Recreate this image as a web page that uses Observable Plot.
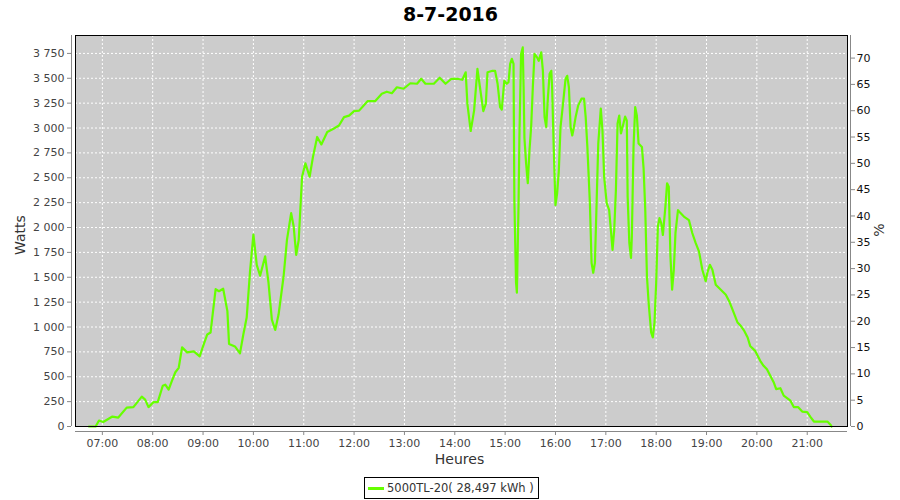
<!DOCTYPE html>
<html>
<head>
<meta charset="utf-8">
<script src="https://cdn.jsdelivr.net/npm/d3@7"></script>
<script src="https://cdn.jsdelivr.net/npm/@observablehq/plot@0.6"></script>
<style>
  html, body { margin: 0; padding: 0; background: #fff; }
  body { width: 900px; height: 500px; overflow: hidden; font-family: "DejaVu Sans", sans-serif; }
  #chart svg { display: block; }
  #legend {
    position: absolute; left: 364px; top: 477px; height: 22px; box-sizing: border-box;
    border: 1px solid #000; display: flex; align-items: center; padding: 0 4px 0 3px;
    font-size: 11.5px; color: #333; white-space: nowrap;
  }
  #legend .sw { display: inline-block; width: 16px; height: 3px; background: #66ff00; margin-right: 3px; }
</style>
</head>
<body>
<div id="chart"></div>
<div id="legend"><span class="sw"></span><span id="legendText"></span></div>
<script>
const title = "8-7-2016";
const seriesName = "5000TL-20( 28,497 kWh )";
const yLabel = "Watts";
const y2Label = "%";
const xLabel = "Heures";

const times = [
  "06:44","06:52","06:56","07:01","07:12","07:19","07:29","07:37","07:47","07:51",
  "07:55","08:01","08:06","08:12","08:15","08:19","08:23","08:27","08:31","08:35",
  "08:41","08:49","08:56","09:01","09:05","09:09","09:11","09:15","09:19","09:24",
  "09:29","09:31","09:38","09:44","09:48","09:52","09:56","10:00","10:04","10:08",
  "10:14","10:18","10:22","10:26","10:30","10:36","10:40","10:45","10:48","10:51",
  "10:54","10:58","11:02","11:07","11:11","11:16","11:21","11:28","11:36","11:42",
  "11:48","11:54","12:00","12:06","12:16","12:25","12:33","12:39","12:45","12:51",
  "12:59","13:07","13:15","13:20","13:25","13:35","13:42","13:49","13:56","14:03",
  "14:09","14:13","14:15","14:19","14:23","14:27","14:30","14:34","14:37","14:39",
  "14:45","14:48","14:51","14:54","14:56","14:59","15:02","15:04","15:06","15:08",
  "15:10","15:11","15:13","15:14","15:16","15:17","15:19","15:21","15:22","15:23",
  "15:25","15:27","15:29","15:31","15:33","15:35","15:38","15:40","15:43","15:45",
  "15:47","15:49","15:51","15:53","15:55","15:56","15:58","16:00","16:02","16:04",
  "16:06","16:09","16:12","16:14","16:16","16:18","16:20","16:22","16:24","16:27",
  "16:31","16:34","16:36","16:38","16:41","16:43","16:45","16:47","16:49","16:51",
  "16:54","16:56","16:58","17:01","17:04","17:06","17:08","17:10","17:12","17:14",
  "17:16","17:18","17:21","17:23","17:25","17:26","17:28","17:30","17:31","17:33",
  "17:35","17:37","17:39","17:43","17:45","17:47","17:49","17:51","17:54","17:56",
  "17:58","18:00","18:02","18:04","18:06","18:08","18:11","18:13","18:15","18:17",
  "18:19","18:21","18:23","18:26","18:29","18:33","18:39","18:43","18:47","18:51",
  "18:55","18:59","19:01","19:04","19:07","19:11","19:17","19:23","19:27","19:31",
  "19:37","19:41","19:45","19:49","19:52","19:58","20:04","20:08","20:12","20:16",
  "20:20","20:23","20:28","20:32","20:36","20:40","20:44","20:49","20:54","21:00",
  "21:04","21:08","21:24","21:28","21:29"
];
const watts = [
  0,0,60,45,100,90,190,195,300,270,
  195,245,245,410,420,370,460,545,590,795,
  745,755,705,830,925,945,1095,1380,1360,1385,
  1160,830,805,735,925,1095,1560,1930,1625,1515,
  1710,1445,1075,970,1125,1510,1875,2145,2010,1725,
  1875,2510,2645,2510,2710,2910,2835,2960,2995,3025,
  3110,3125,3170,3175,3270,3270,3345,3365,3350,3410,
  3395,3450,3445,3495,3445,3445,3505,3445,3495,3495,
  3485,3560,3245,2970,3175,3595,3410,3170,3245,3560,
  3575,3575,3445,3210,3185,3475,3445,3460,3645,3695,
  3645,2275,1445,1345,2245,2910,3745,3810,3410,2900,
  2645,2445,2775,3010,3410,3745,3710,3675,3760,3575,
  3110,3010,3310,3545,3575,3410,2775,2225,2345,2575,
  3010,3245,3495,3525,3410,3010,2925,3010,3110,3225,
  3295,3295,3110,2810,2245,1645,1545,1645,2245,2845,
  3195,2975,2510,2245,2175,1975,1775,1975,2375,3045,
  3125,2945,3045,3115,3075,2310,1845,1695,1910,2810,
  3210,3125,2845,2810,2595,2175,1510,1245,945,895,
  1045,1445,2010,2095,2045,1925,2210,2445,2410,1710,
  1375,1575,1945,2175,2145,2110,2075,1945,1845,1760,
  1575,1460,1545,1625,1575,1425,1375,1325,1260,1175,
  1045,1010,960,895,810,760,660,610,575,510,
  445,375,385,310,285,260,195,195,150,145,
  95,50,50,15,0
];

const hourTicks = ["07:00","08:00","09:00","10:00","11:00","12:00","13:00","14:00",
                   "15:00","16:00","17:00","18:00","19:00","20:00","21:00"];
const wattTicks = [0,250,500,750,1000,1250,1500,1750,2000,2250,2500,2750,3000,3250,3500,3750];
const pctTicks = [0,5,10,15,20,25,30,35,40,45,50,55,60,65,70];
const wattsAt100Pct = 5290;
const xDomain = ["06:28","21:48"];
const yDomain = [0, 3930];

const toMin = s => { const [h, m] = s.split(":").map(Number); return h * 60 + m; };
const data = times.map((t, i) => ({t: toMin(t), w: watts[i]}));
const hourMin = hourTicks.map(toMin);
const fmtHour = m => hourTicks[hourMin.indexOf(m)] ?? "";
const locale = d3.formatLocale({decimal: ",", thousands: " ", grouping: [3], currency: ["", ""]});
const fmtW = locale.format(",d");
const pctPos = pctTicks.map(p => p * wattsAt100Pct / 100);

const gridStyle = {stroke: "#ffffff", strokeOpacity: 1, strokeWidth: 1, strokeDasharray: "2,2"};

const chart = Plot.plot({
  width: 900,
  height: 474,
  marginLeft: 75,
  marginRight: 53,
  marginTop: 35,
  marginBottom: 48,
  style: {fontFamily: "DejaVu Sans, sans-serif", fontSize: "11px", background: "#fff", overflow: "visible"},
  x: {domain: xDomain.map(toMin), axis: null},
  y: {domain: yDomain, axis: null},
  marks: [
    Plot.frame({fill: "#cccccc", stroke: null}),
    Plot.gridX(hourMin, gridStyle),
    Plot.gridY(wattTicks, gridStyle),
    Plot.line(data, {x: "t", y: "w", stroke: "#66ff00", strokeWidth: 2.2, curve: "linear"}),
    Plot.frame({stroke: "#000", strokeWidth: 1}),
    Plot.ruleX([toMin(xDomain[0])], {dx: -4, stroke: "#888"}),
    Plot.ruleX([toMin(xDomain[1])], {dx: 3, stroke: "#888"}),
    Plot.ruleY([yDomain[0]], {dy: 5, stroke: "#888"}),
    Plot.axisY(wattTicks, {anchor: "left", dx: -4, tickSize: 4, tickPadding: 3, tickFormat: fmtW, stroke: "#888", fill: "#444", label: null}),
    Plot.axisY(pctPos, {anchor: "right", dx: 3, tickSize: 4, tickPadding: 2, tickFormat: d => String(Math.round(d * 100 / wattsAt100Pct)), stroke: "#888", fill: "#111", label: null}),
    Plot.axisX(hourMin, {anchor: "bottom", dy: 5, tickSize: 4, tickPadding: 4, tickFormat: fmtHour, stroke: "#888", fill: "#444", label: null}),
    Plot.text([title], {frameAnchor: "top", textAnchor: "middle", lineAnchor: "middle", dx: -11, dy: -21, fontSize: 19, fontWeight: "bold", fill: "#000"}),
    Plot.text([yLabel], {frameAnchor: "left", textAnchor: "middle", lineAnchor: "middle", dx: -55, dy: 4, rotate: -90, fontSize: 14, fill: "#333"}),
    Plot.text([y2Label], {frameAnchor: "right", textAnchor: "middle", lineAnchor: "middle", dx: 32, dy: -1, rotate: -90, fontSize: 14, fill: "#333"}),
    Plot.text([xLabel], {frameAnchor: "bottom", textAnchor: "middle", lineAnchor: "middle", dx: -2, dy: 33, fontSize: 14, fill: "#333"})
  ]
});
document.getElementById("chart").append(chart);
document.getElementById("legendText").textContent = seriesName;
</script>
</body>
</html>
